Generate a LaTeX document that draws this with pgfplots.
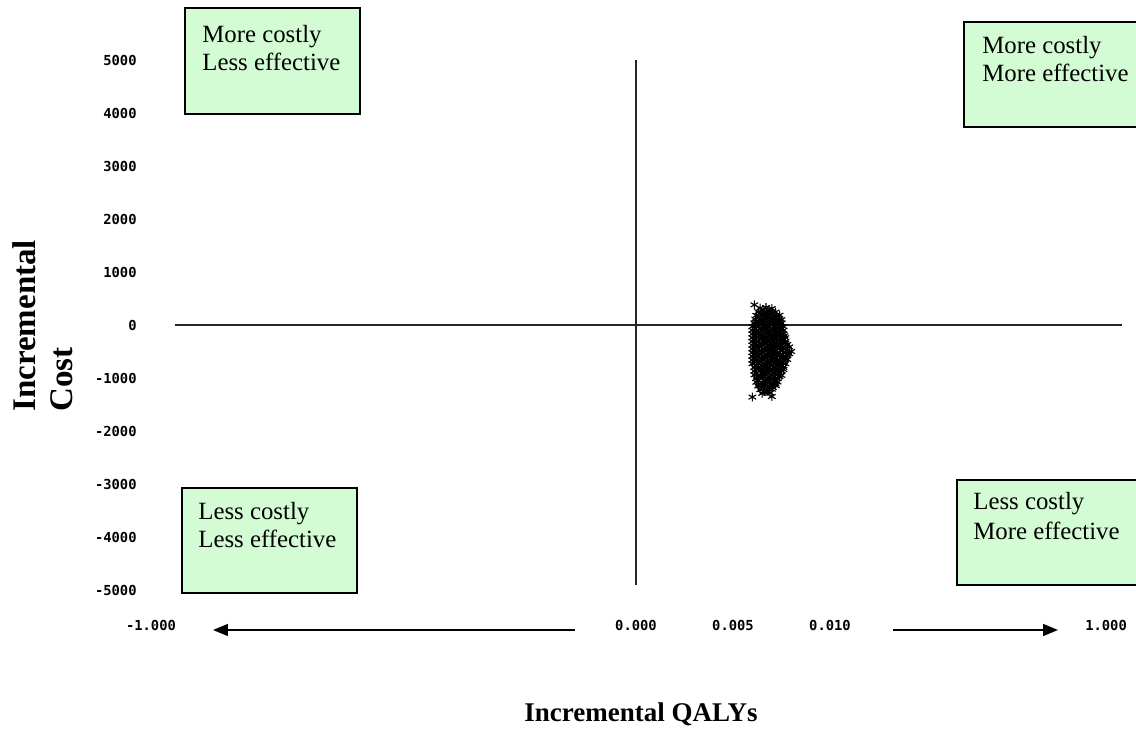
\documentclass[border=0pt]{standalone}
\usepackage{fontspec}
\setmainfont{Liberation Serif}
\newfontfamily\tickfont{DejaVu Sans Mono}
\usepackage{pgfplots}
\pgfplotsset{compat=1.18}
\usetikzlibrary{arrows.meta}
\definecolor{boxgreen}{RGB}{212,252,212}
\begin{document}
\begin{tikzpicture}
\begin{axis}[
  at={(0,0)}, anchor=south west, scale only axis,
  width=498pt, height=265pt,
  xmin=-0.025567, xmax=0.025773, ymin=-5000, ymax=5000,
  axis line style={draw=none}, major tick style={draw=none},
  xtick={-0.0250,0,0.005,0.010,0.02423},
  xticklabels={-1.000,0.000,0.005,0.010,1.000},
  ytick={-5000,-4000,-3000,-2000,-1000,0,1000,2000,3000,4000,5000},
  yticklabels={-5000,-4000,-3000,-2000,-1000,0,1000,2000,3000,4000,5000},
  yticklabel style={anchor=east, inner sep=0pt, xshift=-1.5pt},
  xticklabel style={anchor=center, inner sep=0pt, yshift=-17.5pt},
  ticklabel style={font=\tickfont\bfseries\fontsize{6.9}{7}\selectfont},
  /pgf/number format/assume math mode=true,
  scaled x ticks=false, scaled y ticks=false, clip=false,
]
\draw[line width=0.6pt, black!85] (axis cs:-0.023763,0) -- (axis cs:0.025052,0);
\draw[line width=0.6pt, black!85] (axis cs:0,5000) -- (axis cs:0,-4906);
\addplot[only marks, mark=asterisk, mark size=2.2pt, black, mark options={line width=0.55pt}] coordinates {
(0.0061,380) (0.0064,320) (0.0067,330) (0.0070,310)
(0.0063,250) (0.0066,240) (0.0069,260) (0.0072,245)
(0.0062,180) (0.0065,170) (0.0068,190) (0.0071,175) (0.0074,185)
(0.00615,110) (0.0064,100) (0.0067,120) (0.0070,105) (0.0073,115) (0.0075,100)
(0.0061,40) (0.0063,50) (0.0066,30) (0.0069,45) (0.0072,35) (0.0075,40)
(0.0060,-30) (0.0063,-20) (0.0066,-40) (0.0068,-25) (0.0071,-35) (0.0074,-20) (0.0076,-30)
(0.0060,-100) (0.0062,-110) (0.0065,-90) (0.0068,-105) (0.0071,-95) (0.0073,-110) (0.0076,-100)
(0.0060,-170) (0.0063,-160) (0.0065,-180) (0.0068,-165) (0.0070,-175) (0.0073,-160) (0.0076,-170)
(0.0060,-240) (0.0062,-230) (0.0065,-250) (0.0067,-235) (0.0070,-245) (0.0072,-230) (0.0075,-250) (0.0077,-240)
(0.0060,-310) (0.0063,-300) (0.0066,-320) (0.0068,-305) (0.0071,-315) (0.0074,-300) (0.0077,-310)
(0.0060,-380) (0.0062,-390) (0.0065,-370) (0.0068,-385) (0.0070,-375) (0.0073,-390) (0.0075,-380) (0.0078,-370)
(0.0060,-450) (0.0063,-440) (0.0066,-460) (0.0069,-445) (0.0071,-455) (0.0074,-440) (0.0077,-450) (0.0080,-500)
(0.0060,-520) (0.0062,-530) (0.0065,-510) (0.0068,-525) (0.0070,-515) (0.0073,-530) (0.0076,-520) (0.0079,-540)
(0.0060,-590) (0.0063,-580) (0.0066,-600) (0.0069,-585) (0.0071,-595) (0.0074,-580) (0.0077,-590)
(0.0060,-660) (0.0062,-670) (0.0065,-650) (0.0068,-665) (0.0070,-655) (0.0073,-670) (0.0076,-660) (0.0078,-650)
(0.0060,-730) (0.0063,-720) (0.0066,-740) (0.0069,-725) (0.0072,-735) (0.0074,-720) (0.0077,-730)
(0.0061,-800) (0.0063,-810) (0.0066,-790) (0.0068,-805) (0.0071,-795) (0.0074,-810) (0.0076,-800)
(0.0061,-870) (0.0064,-860) (0.0066,-880) (0.0069,-865) (0.0072,-875) (0.0075,-860)
(0.0061,-940) (0.0064,-950) (0.0067,-930) (0.0070,-945) (0.0073,-935) (0.0075,-950)
(0.0062,-1010) (0.0065,-1000) (0.0068,-1020) (0.0070,-1005) (0.0073,-1015)
(0.0062,-1080) (0.0065,-1090) (0.0068,-1070) (0.0071,-1085) (0.0073,-1075)
(0.0063,-1150) (0.0066,-1140) (0.0069,-1160) (0.0072,-1145)
(0.0064,-1220) (0.0067,-1230) (0.0070,-1210)
(0.0065,-1290) (0.0069,-1280)
(0.0060,-1360) (0.0070,-1350)
};
\addplot[only marks, mark=asterisk, mark size=2.2pt, black, mark options={line width=0.55pt}] coordinates {
(0.00655,285) (0.00685,280)
(0.00645,215) (0.00675,210) (0.00705,220)
(0.00635,145) (0.00665,140) (0.00695,150) (0.00725,140)
(0.0062,75) (0.00655,70) (0.00685,80) (0.00715,75) (0.0074,70)
(0.00615,5) (0.00645,10) (0.00675,0) (0.00705,5) (0.00735,10)
(0.00615,-65) (0.00645,-60) (0.00675,-70) (0.00695,-65) (0.00725,-60) (0.0075,-70)
(0.0061,-135) (0.00635,-140) (0.00665,-130) (0.00695,-135) (0.0072,-140) (0.00745,-130)
(0.0061,-205) (0.00635,-200) (0.0066,-210) (0.00685,-205) (0.0071,-200) (0.0074,-210) (0.00765,-205)
(0.0061,-275) (0.00645,-270) (0.0067,-280) (0.00695,-275) (0.00725,-270) (0.0076,-280)
(0.0061,-345) (0.00635,-350) (0.00665,-340) (0.00695,-345) (0.00715,-350) (0.00745,-340) (0.0077,-345)
(0.0061,-415) (0.00645,-410) (0.00675,-420) (0.0070,-415) (0.00725,-410) (0.00755,-420) (0.0079,-415)
(0.0061,-485) (0.00635,-490) (0.00665,-480) (0.00695,-485) (0.00715,-490) (0.00745,-480) (0.00775,-485)
(0.0061,-555) (0.00645,-550) (0.00675,-560) (0.0070,-555) (0.00725,-550) (0.00755,-560) (0.0078,-555)
(0.0061,-625) (0.00635,-630) (0.00665,-620) (0.00695,-625) (0.00715,-630) (0.00745,-620) (0.0077,-625)
(0.0061,-695) (0.00645,-690) (0.00675,-700) (0.0070,-695) (0.00725,-690) (0.00755,-700)
(0.0062,-765) (0.00645,-770) (0.00675,-760) (0.00695,-765) (0.00725,-770) (0.0075,-760)
(0.0062,-835) (0.0065,-830) (0.00675,-840) (0.00705,-835) (0.00735,-830) (0.0076,-840)
(0.0062,-905) (0.0065,-910) (0.00685,-900) (0.00715,-905) (0.0074,-910)
(0.00625,-975) (0.00655,-970) (0.00685,-980) (0.00715,-975) (0.0074,-970)
(0.0063,-1045) (0.00665,-1050) (0.00695,-1040) (0.0072,-1045)
(0.00635,-1115) (0.00665,-1110) (0.00695,-1120) (0.0072,-1115)
(0.00655,-1185) (0.00685,-1190) (0.00705,-1180)
(0.0066,-1255) (0.0068,-1260)
};
\end{axis}
% quadrant boxes
\draw[line width=0.75pt, fill=boxgreen] (22.5pt,291pt) rectangle (110pt,238pt);
\draw[line width=0.75pt, fill=boxgreen] (412pt,284pt) rectangle (505pt,231.5pt);
\draw[line width=0.75pt, fill=boxgreen] (21pt,51pt) rectangle (108.5pt,-1.5pt);
\draw[line width=0.75pt, fill=boxgreen] (408.5pt,55pt) rectangle (505pt,2.5pt);
\begin{scope}[every node/.style={anchor=base west, inner sep=0pt, font=\fontsize{12.4}{14}\selectfont}]
\node at (31pt,273.5pt) {More costly};
\node at (31pt,259.5pt) {Less effective};
\node at (421pt,268pt) {More costly};
\node at (421pt,254pt) {More effective};
\node at (29pt,35pt) {Less costly};
\node at (29pt,21pt) {Less effective};
\node at (416.5pt,40pt) {Less costly};
\node at (416.5pt,25pt) {More effective};
\end{scope}
% arrows
\draw[line width=0.75pt, -{Triangle[length=7.5pt,width=6pt]}] (217.5pt,-20pt) -- (36.5pt,-20pt);
\draw[line width=0.75pt, -{Triangle[length=7.5pt,width=6pt]}] (376.5pt,-20pt) -- (459pt,-20pt);
% axis titles
\node[font=\bfseries\fontsize{13.5}{16}\selectfont, inner sep=0pt] at (250.5pt,-62pt) {Incremental QALYs};
\node[font=\bfseries\fontsize{16.5}{18}\selectfont, inner sep=0pt, anchor=base west, rotate=90] at (-52pt,89pt) {Incremental};
\node[font=\bfseries\fontsize{16.5}{18}\selectfont, inner sep=0pt, anchor=base west, rotate=90] at (-33.5pt,89pt) {Cost};
\pgfresetboundingbox
\useasboundingbox (-70pt,-74pt) rectangle (498pt,295pt);
\end{tikzpicture}
\end{document}
